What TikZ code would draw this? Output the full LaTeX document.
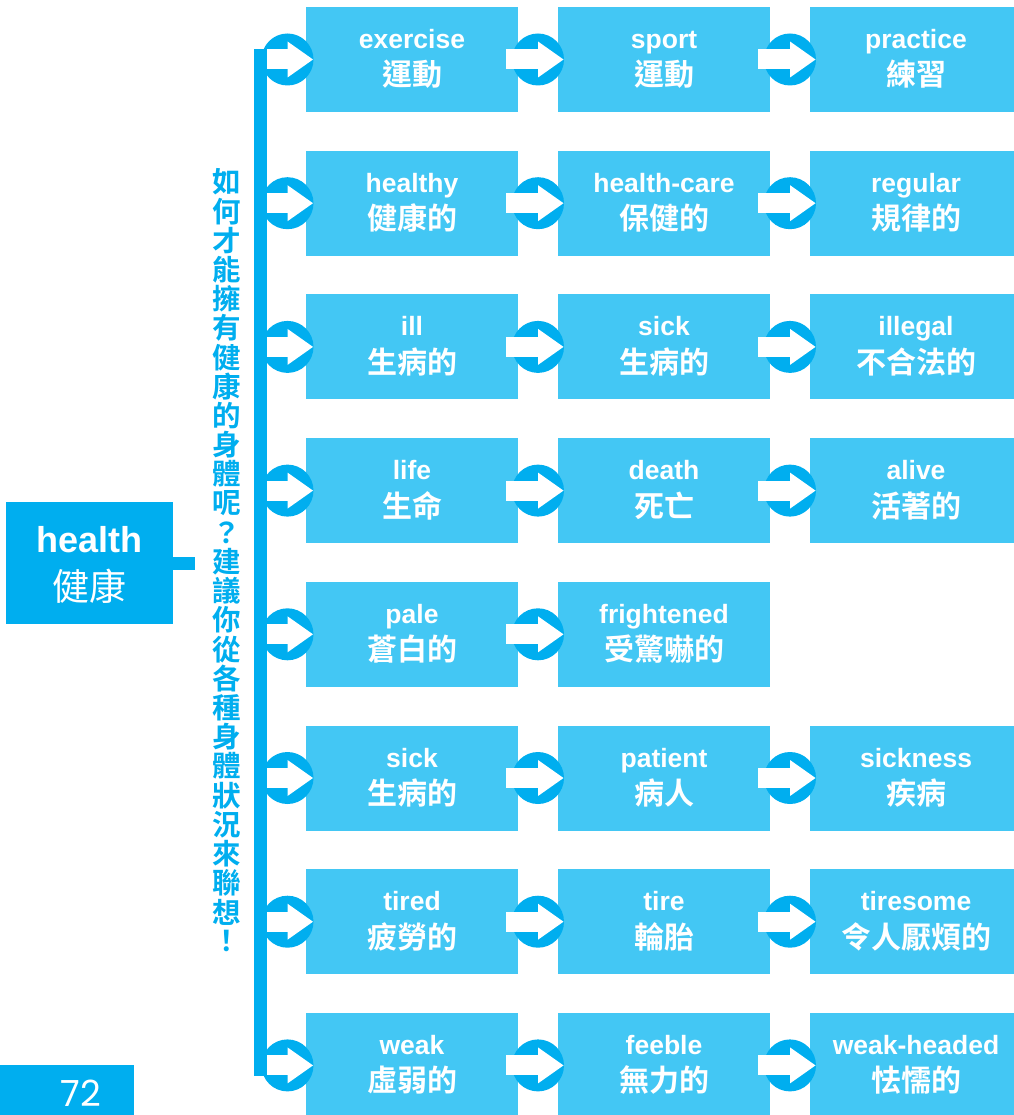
\documentclass[tikz,border=0pt]{standalone}
\usepackage{fontspec}
\setmainfont{Liberation Sans}
\newfontfamily\pop{Poppins}
\newfontfamily\cjk{Noto Sans CJK TC}[BoldFont={Noto Sans CJK TC Bold}]
\usetikzlibrary{calc}
\definecolor{dk}{HTML}{00AEEF}
\definecolor{lt}{HTML}{43C7F4}
\tikzset{
  wordbox/.style={fill=lt, minimum width=212pt, minimum height=105pt, inner sep=0pt, outer sep=0pt},
  en/.style={text=white, font=\bfseries\fontsize{26.5}{30}\selectfont, inner sep=0pt, anchor=base},
  zh/.style={text=white, font=\cjk\bfseries\fontsize{30}{34}\selectfont, inner sep=0pt, anchor=base},
  vt/.style={text=dk, font=\cjk\bfseries\fontsize{28.5}{30}\selectfont, inner sep=0pt},
  bar/.style={draw=dk, line width=13pt},
}
\newcommand\wbox[5]{%
  \node[wordbox] (#1) at (#2+106, #3+52.5) {};
  \node[en] (#1e) at ($(#1.north)+(0,41.5)$) {#4};
  \node[zh] (#1z) at ($(#1.north)+(0,79)$) {#5};
}
\newcommand\flowarr[2]{%
  \begin{scope}[shift={(#1)}]
    \fill[dk] (0,0) circle (26pt);
    \fill[white] (#2,-10) rectangle (0.5,10);
    \fill[white] (0,-18) -- (25.5,0) -- (0,18) -- cycle;
  \end{scope}}
\begin{document}
\begin{tikzpicture}[x=1pt,y=-1pt]
\useasboundingbox (0,0) rectangle (1013,1115);
\fill[white] (0,0) rectangle (1013,1115);

% health box
\node[fill=dk, minimum width=167pt, minimum height=122pt, inner sep=0pt, outer sep=0pt] (health) at (89.5,563) {};
\node[text=white, font=\bfseries\fontsize{36}{40}\selectfont, inner sep=0pt, anchor=base] (healthe) at (89.5,552) {health};
\node[text=white, font=\cjk\fontsize{37}{40}\selectfont, inner sep=0pt, anchor=base] (healthz) at (89.5,600) {健康};
\coordinate (stub) at (195,563);
\draw[bar] (health.east) -- (stub);

% page number
\node[fill=dk, anchor=north west, minimum width=134pt, minimum height=55pt, inner sep=0pt, outer sep=0pt] (pg) at (0,1065) {};
\node[text=white, font=\pop\fontsize{36}{40}\selectfont, inner sep=0pt, anchor=base] (pgn) at (81,1106) {72};

% vertical text
\foreach \ch [count=\i from 0] in {如,何,才,能,擁,有,健,康,的,身,體,呢,？,建,議,你,從,各,種,身,體,狀,況,來,聯,想,！}{
  \node[vt] (v\i) at (227,182+29.2*\i) {\ch};
}

% word boxes
\wbox{b00}{306}{7}{exercise}{運動}
\wbox{b01}{558}{7}{sport}{運動}
\wbox{b02}{810}{7}{practice}{練習}
\wbox{b10}{306}{150.7}{healthy}{健康的}
\wbox{b11}{558}{150.7}{health-care}{保健的}
\wbox{b12}{810}{150.7}{regular}{規律的}
\wbox{b20}{306}{294.4}{ill}{生病的}
\wbox{b21}{558}{294.4}{sick}{生病的}
\wbox{b22}{810}{294.4}{illegal}{不合法的}
\wbox{b30}{306}{438.1}{life}{生命}
\wbox{b31}{558}{438.1}{death}{死亡}
\wbox{b32}{810}{438.1}{alive}{活著的}
\wbox{b40}{306}{581.8}{pale}{蒼白的}
\wbox{b41}{558}{581.8}{frightened}{受驚嚇的}
\wbox{b50}{306}{725.5}{sick}{生病的}
\wbox{b51}{558}{725.5}{patient}{病人}
\wbox{b52}{810}{725.5}{sickness}{疾病}
\wbox{b60}{306}{869.2}{tired}{疲勞的}
\wbox{b61}{558}{869.2}{tire}{輪胎}
\wbox{b62}{810}{869.2}{tiresome}{令人厭煩的}
\wbox{b70}{306}{1012.9}{weak}{虛弱的}
\wbox{b71}{558}{1012.9}{feeble}{無力的}
\wbox{b72}{810}{1012.9}{weak-headed}{怯懦的}

% vertical bar
\coordinate (bartop) at (260.5,49.5);
\coordinate (barbot) at (260.5,1075.5);
\draw[bar] (bartop) -- (barbot);

% arrows from bar
\foreach \r in {0,...,7}{
  \coordinate (a\r) at ($(b\r0.west)+(-18.5,0)$);
  \flowarr{a\r}{-21}
}
% arrows between boxes
\foreach \r in {0,1,2,3,5,6,7}{
  \coordinate (m\r1) at ($(b\r0.east)!0.5!(b\r1.west)$);
  \flowarr{m\r1}{-32}
  \coordinate (m\r2) at ($(b\r1.east)!0.5!(b\r2.west)$);
  \flowarr{m\r2}{-32}
}
\coordinate (m41) at ($(b40.east)!0.5!(b41.west)$);
\flowarr{m41}{-32}
\end{tikzpicture}
\end{document}
